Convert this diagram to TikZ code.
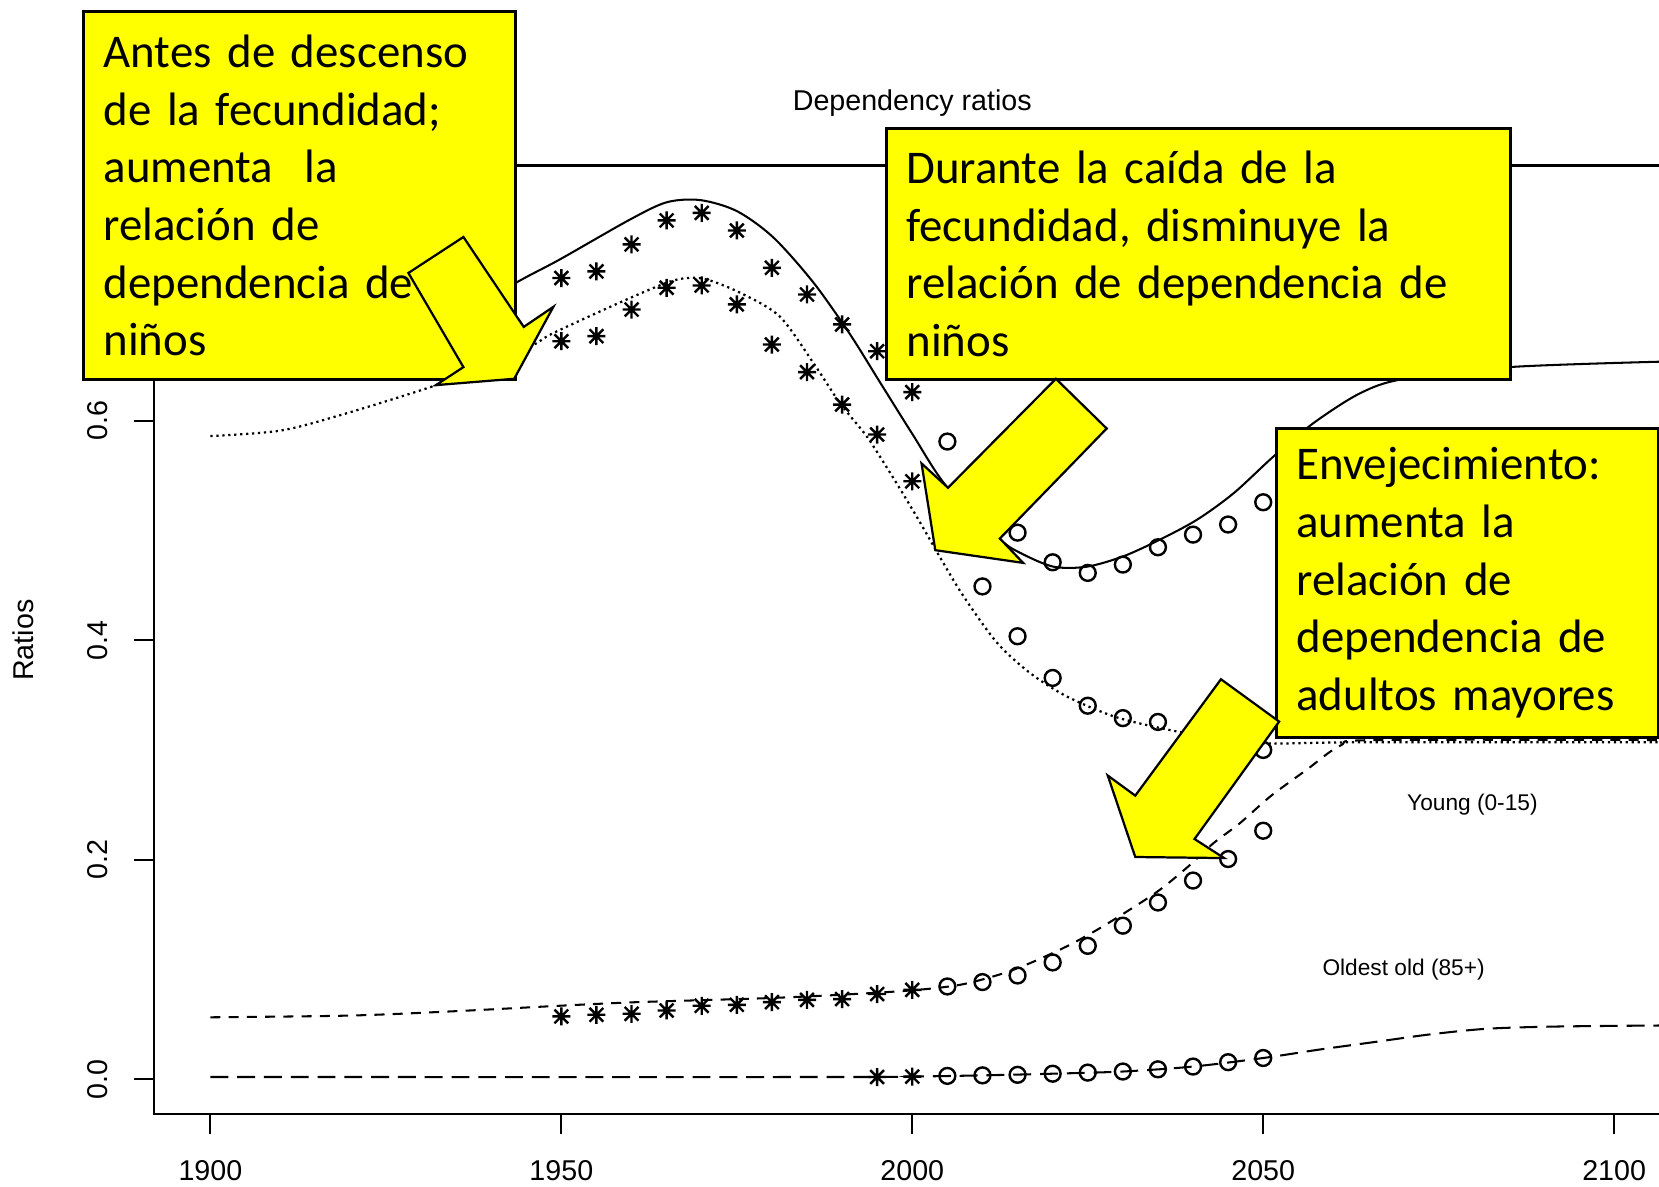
\documentclass[tikz,border=0pt]{standalone}
\usepackage{fontspec}
\setmainfont{Carlito}
\newfontfamily\plotfont{Liberation Sans}
\definecolor{calloutyellow}{RGB}{255,255,0}
\tikzstyle{ybox} = [rectangle, draw, fill=calloutyellow, line width=0.8pt, align=left, anchor=north west, inner xsep=0.19cm, inner ysep=0pt, font=\fontsize{12.6}{15.5}\selectfont]
\tikzstyle{yarrow} = [draw, fill=calloutyellow, line width=0.6pt, line join=miter]
\tikzstyle{curve} = [line width=0.55pt]
\tikzstyle{dotcurve} = [curve, line width=0.6pt, dash pattern=on 0.6pt off 1.0pt]
\tikzstyle{dashcurve} = [curve, dash pattern=on 2.7pt off 2.2pt]
\tikzstyle{longdash} = [curve, dash pattern=on 4.8pt off 2.4pt]
\tikzstyle{lbl} = [font=\plotfont\fontsize{7.7}{9}\selectfont, inner sep=0pt]
\tikzstyle{small} = [font=\plotfont\fontsize{6.1}{7}\selectfont, inner sep=0pt]
\tikzset{
  starmk/.pic={\draw[line width=0.65pt] (-0.085cm,0) -- (0.085cm,0) (0,-0.085cm) -- (0,0.085cm)
    (-0.065cm,-0.065cm) -- (0.065cm,0.065cm) (-0.065cm,0.065cm) -- (0.065cm,-0.065cm);},
  circmk/.pic={\draw[line width=0.65pt] (0,0) circle[radius=0.075cm];}
}
\begin{document}
\begin{tikzpicture}[x=0.01cm, y=-0.01cm]
    \useasboundingbox (0,0) rectangle (1568,1121);
    \clip (0,0) rectangle (1568,1121);
    % Plot (years, ratios)
    \begin{scope}[shift={(199,1020)}, xshift=-125.97cm, x=0.0663cm, y=10.367cm]
    \draw [curve] (1892,-0.0318) rectangle (2108,0.8325);
    \foreach \v/\n in {0.0/0, 0.2/2, 0.4/4, 0.6/6} {
        \draw [curve] (1892,\v) -- (1889.1,\v);
        \node [lbl, rotate=90] (ytick\n) at (1884,\v) {\v};
    }
    \foreach \yr in {1900,1950,...,2100} {
        \draw [curve] (\yr,-0.0318) -- (\yr,-0.0497);
        \node [lbl] (xtick\yr) at (\yr,-0.083) {\yr};
    }
    \node [lbl] (title) at (2000,0.8894) {Dependency ratios};
    \node [lbl, rotate=90] (ylab) at (1873.3,0.4) {Ratios};
    \node [small] (young) at (2079.8,0.2498) {Young (0-15)};
    \node [small] (oldest) at (2070,0.0994) {Oldest old (85+)};
    % Draw curves
    \draw [curve] plot [smooth] coordinates {(1935,0.69) (1943.1,0.724) (1949.8,0.747) (1959.7,0.783) (1965,0.799) (1969.8,0.801) (1975,0.791) (1980.2,0.767) (1985.9,0.726) (1991.1,0.679) (1995.4,0.635) (2000,0.588) (2004.9,0.540) (2012.5,0.492) (2015.4,0.4795) (2020.1,0.467) (2024.9,0.467) (2030.1,0.4765) (2035.3,0.4917) (2040.6,0.5099) (2045.8,0.534) (2051.5,0.5676) (2057.2,0.598) (2063.8,0.625) (2070,0.638) (2085.5,0.649) (2108,0.654)};
    \draw [dotcurve] plot [smooth] coordinates {(1900,0.586) (1910,0.591) (1919,0.606) (1932,0.632) (1940,0.652) (1946,0.669) (1948.9,0.680) (1958.8,0.709) (1965,0.7257) (1967.9,0.730) (1970.7,0.7287) (1975.5,0.7165) (1981.1,0.695) (1985.9,0.6527) (1989.7,0.616) (1993.5,0.5858) (1996.5,0.556) (1999,0.53) (2001.5,0.503) (2004,0.475) (2007.3,0.44) (2012.1,0.3975) (2016.8,0.370) (2022,0.3488) (2028.7,0.3306) (2035.3,0.320) (2042,0.312) (2050.5,0.306) (2064,0.307) (2108,0.307)};
    \draw [dashcurve] plot [smooth] coordinates {(1900,0.0564) (1920,0.058) (1935,0.062) (1950,0.067) (1960,0.070) (1970,0.072) (1980,0.074) (1990,0.077) (2000,0.081) (2006.8,0.086) (2012.5,0.0955) (2016.8,0.1058) (2022,0.121) (2026.3,0.136) (2030.6,0.1529) (2035.3,0.1727) (2039.6,0.1954) (2042.9,0.215) (2046.7,0.2334) (2051,0.2576) (2056.2,0.282) (2061,0.304) (2066,0.309) (2108,0.309)};
    \draw [longdash] plot [smooth] coordinates {(1900,0.002) (1990,0.002) (2000,0.0024) (2010,0.0035) (2020,0.005) (2030,0.007) (2040,0.0115) (2050,0.0193) (2058,0.027) (2066,0.034) (2074,0.041) (2082,0.046) (2092,0.048) (2108,0.049)};
    % Markers
    \foreach \yr/\v in {1950/0.730, 1955/0.736, 1960/0.7606, 1965/0.7825, 1970/0.7894, 1975/0.7733, 1980/0.7393, 1985/0.715, 1990/0.6877, 1995/0.6633, 2000/0.626,
        1950/0.6724, 1955/0.677, 1960/0.7013, 1965/0.7211, 1970/0.7232, 1975/0.706, 1980/0.6694, 1985/0.6442, 1990/0.6147, 1995/0.5874, 2000/0.5448,
        1950/0.0572, 1955/0.0587, 1960/0.0596, 1965/0.0626, 1970/0.0669, 1975/0.0678, 1980/0.0702, 1985/0.0723, 1990/0.073, 1995/0.0776, 2000/0.0814,
        1995/0.002, 2000/0.0024}
        \pic at (\yr,\v) {starmk};
    \foreach \yr/\v in {2005/0.581, 2015/0.498, 2020/0.471, 2025/0.4613, 2030/0.4689, 2035/0.4847, 2040/0.4962, 2045/0.5054, 2050/0.5257,
        2010/0.449, 2015/0.4036, 2020/0.3656, 2025/0.3403, 2030/0.329, 2035/0.3255, 2050/0.300,
        2005/0.0845, 2010/0.0885, 2015/0.0945, 2020/0.1064, 2025/0.1215, 2030/0.1399, 2035/0.161, 2040/0.181, 2045/0.2006, 2050/0.2264,
        2005/0.003, 2010/0.0035, 2015/0.004, 2020/0.005, 2025/0.006, 2030/0.007, 2035/0.009, 2040/0.0115, 2045/0.0155, 2050/0.0193}
        \pic at (\yr,\v) {circmk};
    \end{scope}
    % Place nodes
    \node [ybox, minimum width=4.08cm, minimum height=3.475cm, text width=3.70cm] (before) at (77.5,9.5) {Antes de descenso\\ de la fecundidad;\\ aumenta\ \ la\\ relación de\\ dependencia de\\ niños};
    \node [ybox, minimum width=5.90cm, minimum height=2.378cm, text width=5.52cm] (during) at (836.3,119.7) {Durante la caída de la\\ fecundidad, disminuye la\\ relación de dependencia de\\ niños};
    \node [ybox, minimum width=3.61cm, minimum height=2.925cm, text width=3.23cm] (aging) at (1204.9,403.2) {Envejecimiento:\\ aumenta la\\ relación de\\ dependencia de\\ adultos mayores};
    % Draw arrows
    \draw [yarrow] (438,224) -- (495,309) -- (523,290) -- (486,358) -- (412,364) -- (438,347) -- (386,258) -- cycle;
    \draw [yarrow] (998,358) -- (1046,405) -- (945,509) -- (967,532) -- (884,520) -- (871,438) -- (896,461) -- cycle;
    \draw [yarrow] (1154,642) -- (1209,682) -- (1129,793) -- (1157,811) -- (1073,810) -- (1047,733) -- (1073,752) -- cycle;
\end{tikzpicture}
\end{document}
